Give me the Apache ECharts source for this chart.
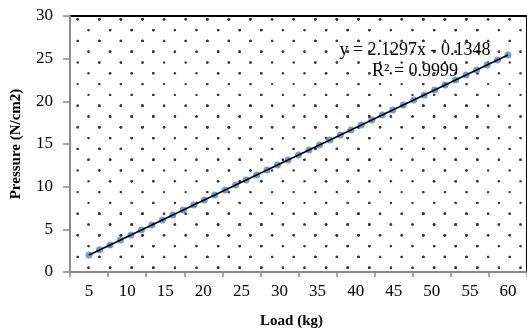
<!DOCTYPE html>
<html>
<head>
<meta charset="utf-8">
<script src="https://cdn.jsdelivr.net/npm/echarts@6/dist/echarts.min.js"></script>
<style>
html,body{margin:0;padding:0;background:#fff;}
#chart{width:527px;height:334px;}
</style>
</head>
<body>
<div id="chart"></div>
<script>
// ---- data ----
var categories = ['5','10','15','20','25','30','35','40','45','50','55','60'];
var loadKg = [5, 6.38, 7.75, 9.13, 10.5, 11.88, 13.25, 14.63, 16, 17.38, 18.75, 20.13, 21.5, 22.88, 24.25, 25.63, 27, 28.38, 29.75, 31.13, 32.5, 33.88, 35.25, 36.63, 38, 39.38, 40.75, 42.13, 43.5, 44.88, 46.25, 47.63, 49, 50.38, 51.75, 53.13, 54.5, 55.88, 57.25, 58.63, 60];
var pressure = [2.00, 2.60, 3.17, 3.74, 4.34, 4.93, 5.50, 6.10, 6.69, 7.26, 7.86, 8.44, 9.03, 9.61, 10.19, 10.78, 11.37, 11.95, 12.55, 13.12, 13.71, 14.31, 14.88, 15.47, 16.05, 16.65, 17.22, 17.81, 18.40, 18.97, 19.57, 20.15, 20.74, 21.33, 21.90, 22.50, 23.08, 23.67, 24.25, 24.85, 25.42];
var trendX = [5, 60];
var trendY = [2.00, 25.42];
var yTicks = [0, 5, 10, 15, 20, 25, 30];
var equationText = 'y = 2.1297x - 0.1348';
var r2Text = 'R\u00B2 = 0.9999';

// ---- dotted pattern for plot area ----
var tile = document.createElement('canvas');
var T = 108, P = 21.6;
tile.width = T; tile.height = T;
var ctx = tile.getContext('2d');
ctx.fillStyle = '#3a3a3a';
function dot(x, y){
  x = ((x % T) + T) % T; y = ((y % T) + T) % T;
  ctx.beginPath(); ctx.arc(x, y, 1.2, 0, Math.PI*2); ctx.fill();
}
for (var i = -1; i < 7; i++) {
  for (var j = -1; j < 7; j++) {
    dot(12.9 + P*i, 19.3 + P*j);
    dot(12.9 + P*i + P/2, 19.3 + P*j + P/2);
  }
}

var serif = "'Liberation Serif','Times New Roman',serif";
var chart = echarts.init(document.getElementById('chart'));
var seriesData = loadKg.map(function(x, k){ return [x, pressure[k]]; });
var trendData = trendX.map(function(x, k){ return [x, trendY[k]]; });

chart.setOption({
  animation: false,
  backgroundColor: '#fff',
  grid: {
    left: 70, top: 16, right: -10, bottom: 60,
    show: true,
    backgroundColor: {image: tile, repeat: 'repeat'},
    borderColor: '#000', borderWidth: 2
  },
  xAxis: [{
    type: 'category',
    data: categories,
    boundaryGap: true,
    position: 'bottom',
    axisLine: {show: true, lineStyle: {color: '#8a8a8a', width: 2}},
    axisTick: {show: true, interval: 0, length: 5, lineStyle: {color: '#8a8a8a', width: 1.5}},
    axisLabel: {interval: 0, margin: 11, color: '#000', fontFamily: serif, fontSize: 17},
    splitLine: {show: false},
    name: 'Load (kg)',
    nameLocation: 'middle',
    nameGap: 42,
    nameTextStyle: {color: '#000', fontFamily: serif, fontSize: 15, fontWeight: 'bold', padding: [0, 14, 0, 0]}
  }, {
    type: 'value',
    min: 2.5, max: 62.5,
    show: false
  }],
  yAxis: {
    type: 'value',
    min: 0, max: 30, interval: 5,
    axisLine: {show: true, lineStyle: {color: '#8a8a8a', width: 2}},
    axisTick: {show: true, length: 7, lineStyle: {color: '#8a8a8a', width: 1.5}},
    axisLabel: {margin: 17, color: '#000', fontFamily: serif, fontSize: 17,
      formatter: function(v){ return yTicks.indexOf(v) >= 0 ? String(v) : ''; }},
    splitLine: {show: false},
    name: 'Pressure (N/cm2)',
    nameLocation: 'middle',
    nameRotate: 90,
    nameGap: 46,
    nameTextStyle: {color: '#000', fontFamily: serif, fontSize: 15, fontWeight: 'bold'}
  },
  series: [{
    type: 'scatter',
    xAxisIndex: 1,
    data: seriesData,
    symbol: 'circle',
    symbolSize: 7,
    itemStyle: {color: '#4f86c6'},
    z: 2
  }, {
    type: 'line',
    xAxisIndex: 1,
    data: trendData,
    symbol: 'none',
    lineStyle: {color: '#000', width: 1.6},
    z: 3
  }],
  graphic: [{
    type: 'text',
    x: 415, y: 50, z: 10,
    style: {text: equationText, fill: '#000', font: '18px ' + serif, align: 'center', verticalAlign: 'middle', textAlign: 'center', textVerticalAlign: 'middle'}
  }, {
    type: 'text',
    x: 415, y: 71, z: 10,
    style: {text: r2Text, fill: '#000', font: '18px ' + serif, align: 'center', verticalAlign: 'middle', textAlign: 'center', textVerticalAlign: 'middle'}
  }]
});
</script>
</body>
</html>
